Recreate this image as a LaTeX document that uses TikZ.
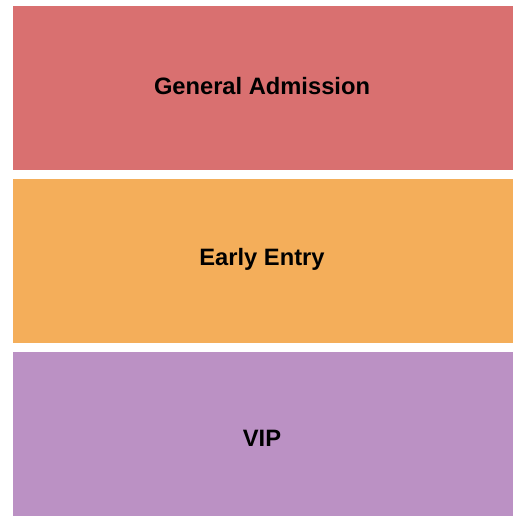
\documentclass[tikz,border=0pt]{standalone}
\usepackage{fontspec}
\setmainfont{Liberation Sans}
\definecolor{ga}{HTML}{D97070}
\definecolor{ee}{HTML}{F4AE5A}
\definecolor{vip}{HTML}{BB91C4}
\begin{document}
\begin{tikzpicture}[x=1pt,y=-1pt,
  label/.style={font=\bfseries\fontsize{23.7}{28}\selectfont, text=black, inner sep=0pt}]
\useasboundingbox (0,0) rectangle (525,525);
\fill[white] (0,0) rectangle (525,525);
\fill[ga] (13,6) rectangle (513,170);
\fill[ee] (13,179) rectangle (513,343);
\fill[vip] (13,352) rectangle (513,516);
\node[label] (gen) at (262,86.5) {General Admission};
\node[label] (early) at (262,259) {Early Entry};
\node[label] (vipl) at (262,438.5) {VIP};
\end{tikzpicture}
\end{document}
